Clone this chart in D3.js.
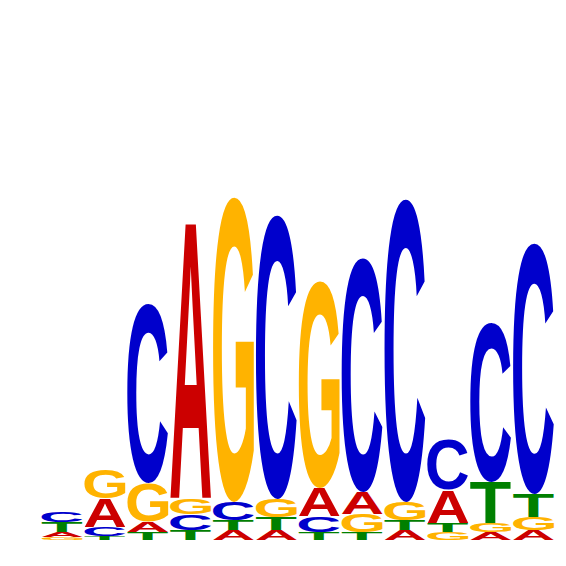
<!DOCTYPE html>
<html>
<head>
<meta charset="utf-8">
<script src="https://cdn.jsdelivr.net/npm/d3@7"></script>
<style>
  html, body { margin: 0; padding: 0; background: #fff; }
  svg { display: block; }
</style>
</head>
<body>
<svg id="chart" width="566" height="566"></svg>
<script>
// Sequence logo data (bits per letter at each position)
const positions = [1, 2, 3, 4, 5, 6, 7, 8, 9, 10, 11, 12];
const letters = ["A", "C", "G", "T"];
const valuesA = [0.021, 0.113, 0.040, 1.112, 0.040, 0.040, 0.112, 0.088, 0.040, 0.132, 0.032, 0.040];
const valuesC = [0.041, 0.038, 0.716, 0.064, 0.072, 1.136, 0.064, 0.936, 1.212, 0.200, 0.640, 1.004];
const valuesG = [0.012, 0.117, 0.152, 0.065, 1.220, 0.072, 0.828, 0.072, 0.072, 0.032, 0.036, 0.052];
const valuesT = [0.040, 0.016, 0.032, 0.040, 0.040, 0.052, 0.032, 0.032, 0.040, 0.036, 0.164, 0.092];
const letterColors = { A: "#CC0000", C: "#0000CC", G: "#FFB300", T: "#008000" };

const series = { A: valuesA, C: valuesC, G: valuesG, T: valuesT };

const svg = d3.select("#chart");
const fontFamily = "'Liberation Sans', Arial, Helvetica, sans-serif";

const x = d3.scaleBand()
  .domain(positions)
  .range([40.67, 554.99])
  .paddingInner(0.0434)
  .paddingOuter(0.0217);

const y = d3.scaleLinear().domain([0, 2]).range([540, 40]);

// measure ink bounds of glyphs
const canvas = document.createElement("canvas");
const ctx = canvas.getContext("2d");
ctx.font = "bold 100px " + fontFamily;
const metrics = {};
letters.forEach(l => {
  const m = ctx.measureText(l);
  metrics[l] = {
    L: m.actualBoundingBoxLeft,
    R: m.actualBoundingBoxRight,
    A: m.actualBoundingBoxAscent,
    D: m.actualBoundingBoxDescent
  };
});

// build stacks
const stacks = positions.map((p, i) => {
  const col = letters.map(l => ({ letter: l, value: series[l][i] }))
    .sort((a, b) => a.value - b.value);
  let cum = 0;
  col.forEach(d => { d.y0 = cum; cum += d.value; d.y1 = cum; d.pos = p; });
  return col;
});

const g = svg.append("g");
stacks.forEach(col => {
  col.forEach(d => {
    const bx = x(d.pos);
    const bw = x.bandwidth();
    const by = y(d.y1);
    const bh = y(d.y0) - y(d.y1);
    if (bh <= 0) return;
    const m = metrics[d.letter];
    const sx = bw / (m.L + m.R);
    const sy = bh / (m.A + m.D);
    g.append("text")
      .attr("x", 0)
      .attr("y", 0)
      .attr("font-family", fontFamily)
      .attr("font-weight", "bold")
      .attr("font-size", 100)
      .attr("fill", letterColors[d.letter])
      .attr("transform", `translate(${bx},${by}) scale(${sx},${sy}) translate(${m.L},${m.A})`)
      .text(d.letter);
  });
});
</script>
</body>
</html>
